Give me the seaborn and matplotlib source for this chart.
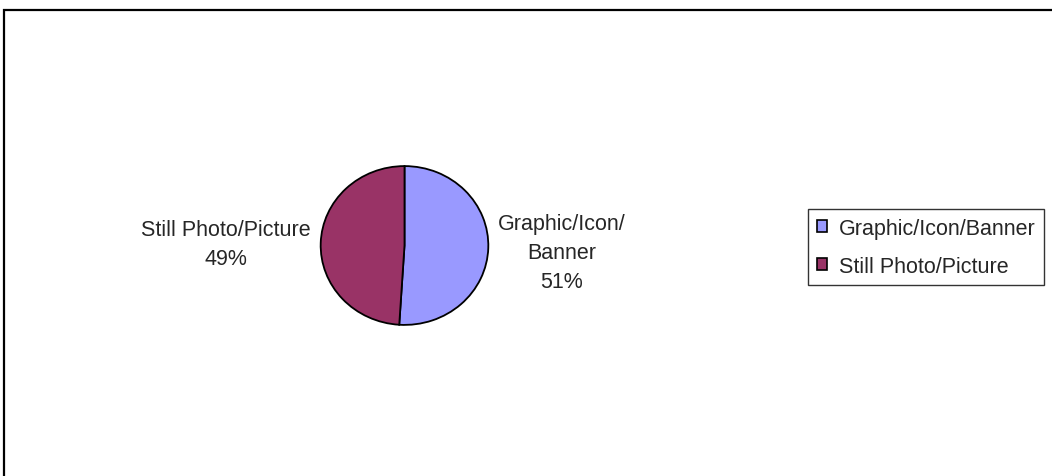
import matplotlib
matplotlib.use("Agg")
import matplotlib.pyplot as plt
import matplotlib.patches as mpatches
import seaborn as sns

categories = ["Graphic/Icon/Banner", "Still Photo/Picture"]
values = [51, 49]
pie_labels = ["Graphic/Icon/\nBanner\n51%", "Still Photo/Picture\n49%"]
colors = ["#9999FF", "#993366"]

sns.set_style("white")
plt.rcParams["font.family"] = ["Liberation Sans", "DejaVu Sans"]

W, H = 1052, 477
fig = plt.figure(figsize=(W / 100, H / 100), dpi=100)
fig.patch.set_facecolor("white")

def fx(px):
    return px / W

def fy(py):
    return 1 - py / H

FS = 15.5

# outer frame (cropped at right and bottom)
fig.add_artist(mpatches.Rectangle((fx(4), fy(490)), fx(1060) - fx(4), fy(11) - fy(490),
                                  transform=fig.transFigure, fill=False,
                                  edgecolor="black", linewidth=1.6))

cx, cy, rx, ry = 404.5, 246.5, 85.5, 81.0
ax = fig.add_axes([fx(cx - rx), fy(cy + ry), 2 * rx / W, 2 * ry / H])
wedges, _ = ax.pie(values, colors=colors, startangle=90, counterclock=False,
                   radius=1, wedgeprops=dict(edgecolor="black", linewidth=1.3))
ax.set_xlim(-1.02, 1.02)
ax.set_ylim(-1.02, 1.02)
ax.set_aspect("auto")
ax.axis("off")

fig.text(fx(562), fy(288), pie_labels[0], ha="center", va="baseline",
         fontsize=FS, linespacing=1.5, multialignment="center")
fig.text(fx(226), fy(265), pie_labels[1], ha="center", va="baseline",
         fontsize=FS, linespacing=1.5, multialignment="center")

handles = [mpatches.Patch(facecolor=c, edgecolor="black", linewidth=1.2) for c in colors]
leg = fig.legend(handles, categories, loc="upper left",
                 bbox_to_anchor=(fx(808), fy(210)), bbox_transform=fig.transFigure,
                 frameon=True, fancybox=False, fontsize=FS, handlelength=0.47,
                 handleheight=0.47, handletextpad=0.56, borderpad=0.4,
                 labelspacing=0.8, borderaxespad=0)
leg.get_frame().set_edgecolor("black")
leg.get_frame().set_linewidth(1.0)

fig.savefig("out.png", dpi=100, facecolor="white")
